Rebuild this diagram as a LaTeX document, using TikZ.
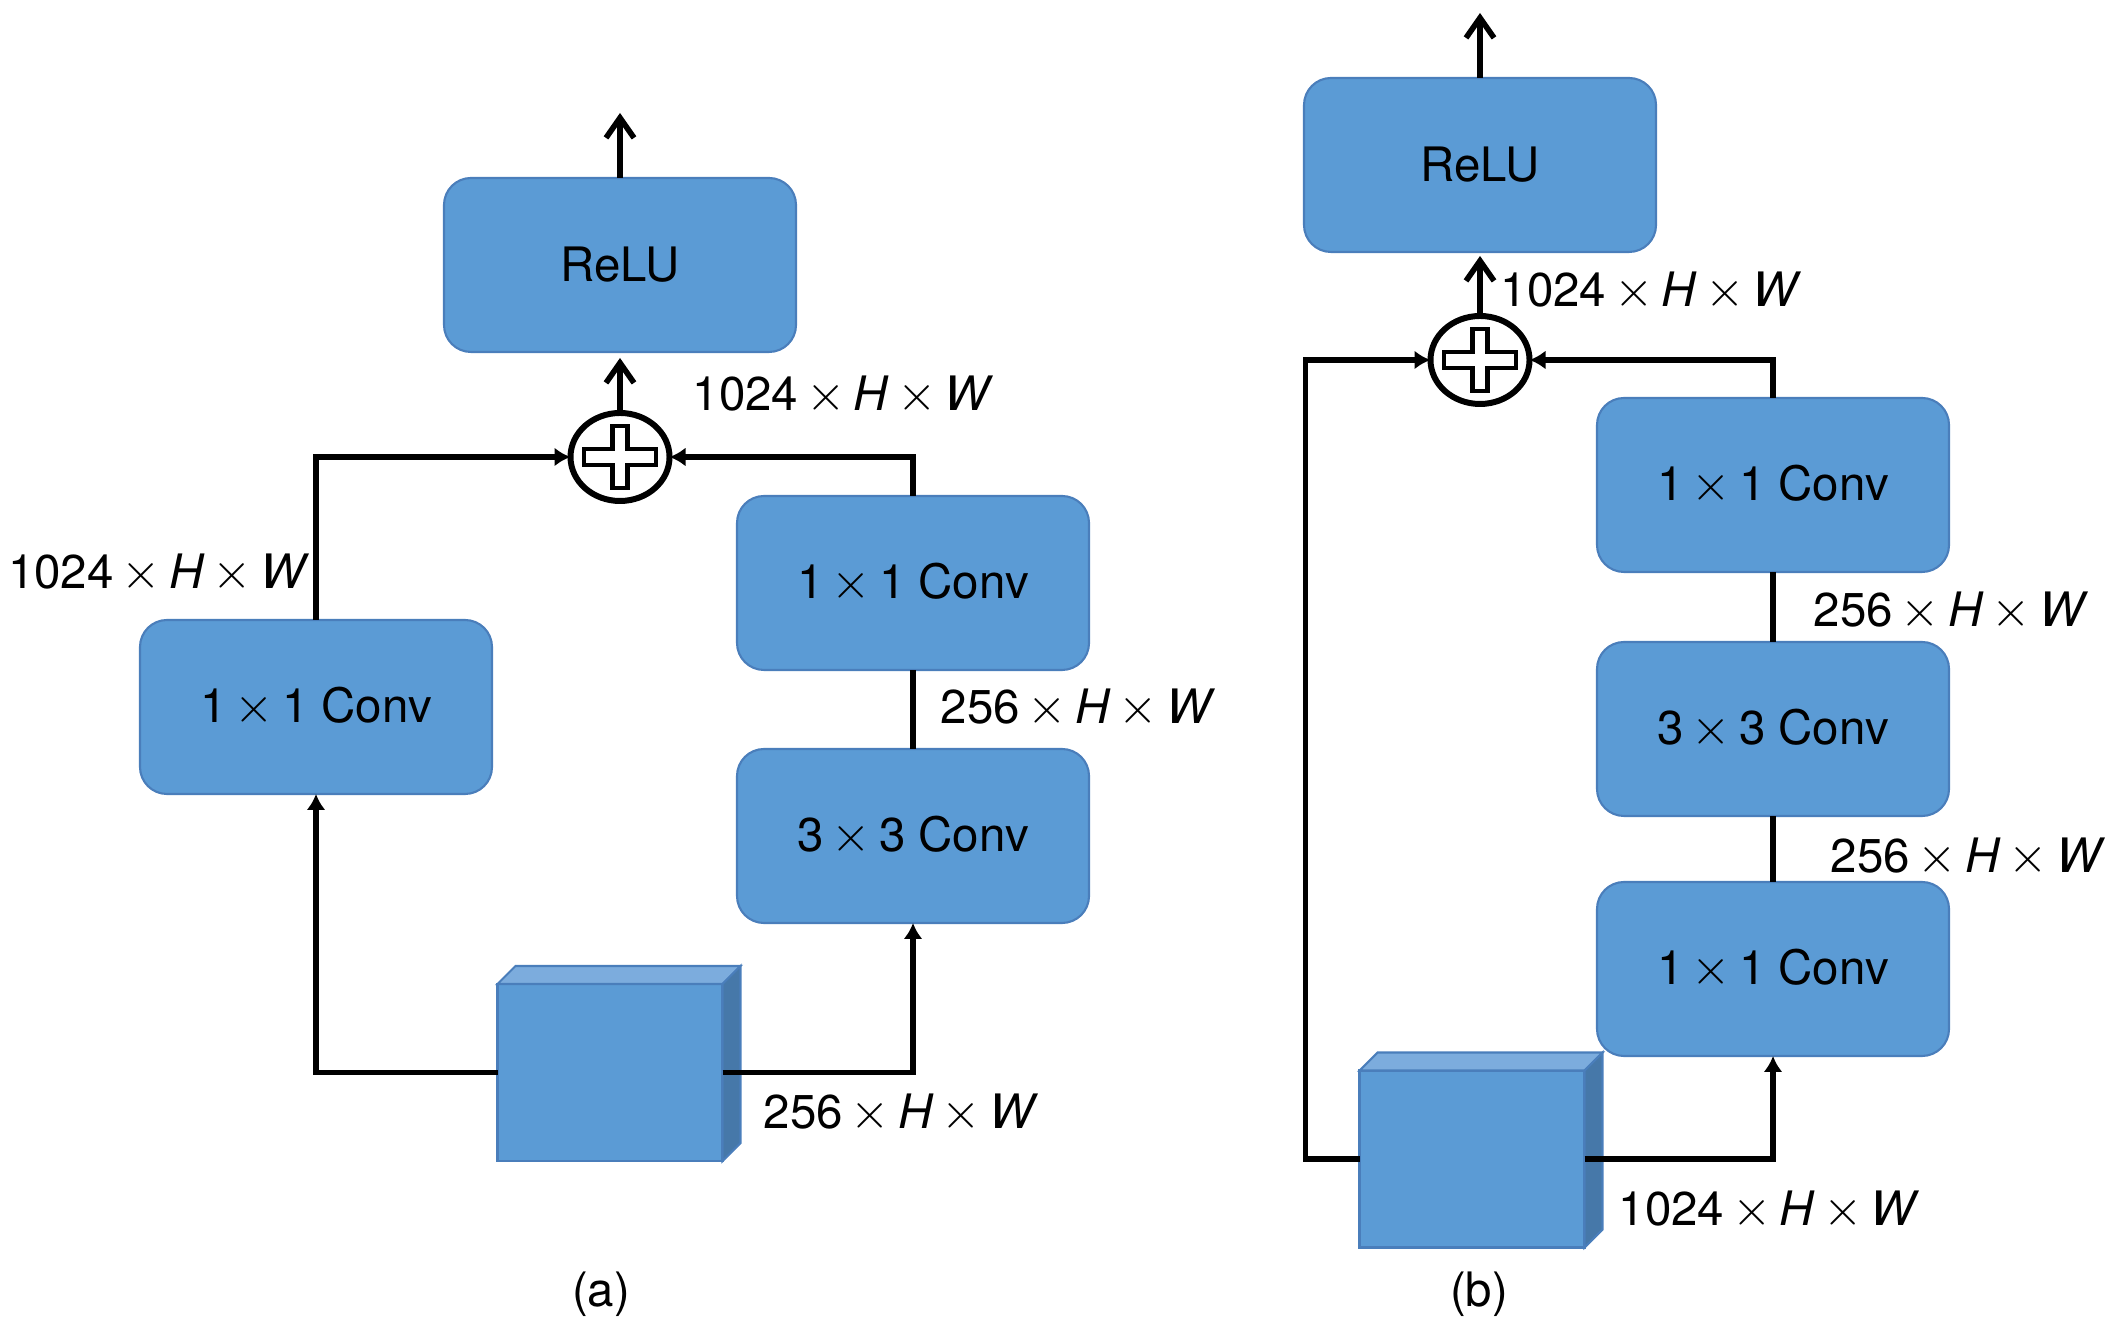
\documentclass[tikz,border=0pt]{standalone}
\usepackage{fontspec}
\setmainfont{TeX Gyre Heros}
\usetikzlibrary{shapes.geometric,arrows.meta}
\definecolor{boxblue}{HTML}{5B9BD5}
\definecolor{boxline}{HTML}{4A7EBB}
\definecolor{cubetop}{HTML}{7CACDD}
\definecolor{cubeside}{HTML}{4678A9}
\newcommand\xby{\hspace{0.17em}$\times$\hspace{0.17em}}
\newcommand\chw[1]{#1\xby\textit{H}\xby\textit{W}}

\begin{document}
\begin{tikzpicture}[
        block/.style={draw=boxline, line width=0.6pt, fill=boxblue, rounded corners=0.27cm,
            minimum width=3.52cm, minimum height=1.74cm, inner sep=0pt, outer sep=0pt,
            font=\fontsize{13.5}{16}\selectfont},
        face/.style={draw=boxline, line width=0.6pt, fill=boxblue,
            minimum width=2.25cm, minimum height=1.77cm, inner sep=0pt, outer sep=0pt},
        sumnode/.style={ellipse, draw, line width=1.7pt, fill=white,
            minimum width=0.99cm, minimum height=0.88cm, inner sep=0pt, outer sep=0pt},
        lbl/.style={inner sep=0pt, font=\fontsize{13.5}{16}\selectfont},
        link/.style={line width=1.6pt},
        tip/.style={link, -{Latex[length=1.6mm,width=1.9mm]}},
        up/.style={link, -{Straight Barb[length=2mm,width=2.8mm]}},
    ]
    \useasboundingbox (0,0) rectangle (21.14,13.37);

    % (a)
    \node[block] (relua) at (6.20,10.72) {ReLU};
    \node[sumnode] (suma) at (6.20,8.80) {};
    \node[block] (convla) at (3.16,6.30) {1\xby1 Conv};
    \node[block] (convra) at (9.13,7.54) {1\xby1 Conv};
    \node[block] (conv3a) at (9.13,5.01) {3\xby3 Conv};
    \node[face] (cubea) at (6.10,2.645) {};
    \coordinate (outa) at (6.20,12.24);

    % (b)
    \node[block] (relub) at (14.80,11.72) {ReLU};
    \node[sumnode] (sumb) at (14.80,9.77) {};
    \node[block] (conv1b) at (17.73,8.52) {1\xby1 Conv};
    \node[block] (conv3b) at (17.73,6.08) {3\xby3 Conv};
    \node[block] (conv0b) at (17.73,3.68) {1\xby1 Conv};
    \node[face] (cubeb) at (14.72,1.78) {};
    \coordinate (outb) at (14.80,13.24);

    \foreach \c in {cubea,cubeb} {
        \filldraw[fill=cubetop, draw=boxline, line width=0.6pt]
            (\c.north west) -- ++(0.18,0.18) -- ++(2.25,0) -- (\c.north east) -- cycle;
        \filldraw[fill=cubeside, draw=boxline, line width=0.6pt]
            (\c.north east) -- ++(0.18,0.18) -- ++(0,-1.77) -- (\c.south east) -- cycle;
    }

    \foreach \s in {suma,sumb}
        \draw[line width=1.2pt, fill=white, shift={(\s)}]
            (-0.36,0.08) -- (-0.075,0.08) -- (-0.075,0.31) -- (0.075,0.31)
            -- (0.075,0.08) -- (0.36,0.08) -- (0.36,-0.08) -- (0.075,-0.08)
            -- (0.075,-0.31) -- (-0.075,-0.31) -- (-0.075,-0.08) -- (-0.36,-0.08) -- cycle;

    % connectors (a)
    \draw[tip] (cubea.west) -| (convla.south);
    \draw[tip] (convla.north) |- (suma.west);
    \draw[tip] (cubea.east) -| (conv3a.south);
    \draw[link] (conv3a.north) -- (convra.south);
    \draw[tip] (convra.north) |- (suma.east);
    \draw[up, shorten >=0.06cm] (suma.north) -- (relua.south);
    \draw[up] (relua.north) -- (outa);

    % connectors (b)
    \draw[tip] (cubeb.west) -| ++(-0.54,0) |- (sumb.west);
    \draw[tip] (cubeb.east) -| (conv0b.south);
    \draw[link] (conv0b.north) -- (conv3b.south);
    \draw[link] (conv3b.north) -- (conv1b.south);
    \draw[tip] (conv1b.north) |- (sumb.east);
    \draw[up, shorten >=0.04cm] (sumb.north) -- (relub.south);
    \draw[up] (relub.north) -- (outb);

    % labels
    \node[lbl, anchor=west] (la1) at (6.92,9.42) {\chw{1024}};
    \node[lbl, anchor=east] (la2) at (3.10,7.64) {\chw{1024}};
    \node[lbl, anchor=west] (la3) at (9.40,6.29) {\chw{256}};
    \node[lbl, anchor=west] (la4) at (7.63,2.24) {\chw{256}};
    \node[lbl] (capa) at (6.01,0.43) {(a)};

    \node[lbl, anchor=west] (lb1) at (15.00,10.46) {\chw{1024}};
    \node[lbl, anchor=west] (lb2) at (18.13,7.26) {\chw{256}};
    \node[lbl, anchor=west] (lb3) at (18.30,4.80) {\chw{256}};
    \node[lbl, anchor=west] (lb4) at (16.18,1.27) {\chw{1024}};
    \node[lbl] (capb) at (14.79,0.43) {(b)};
\end{tikzpicture}
\end{document}
